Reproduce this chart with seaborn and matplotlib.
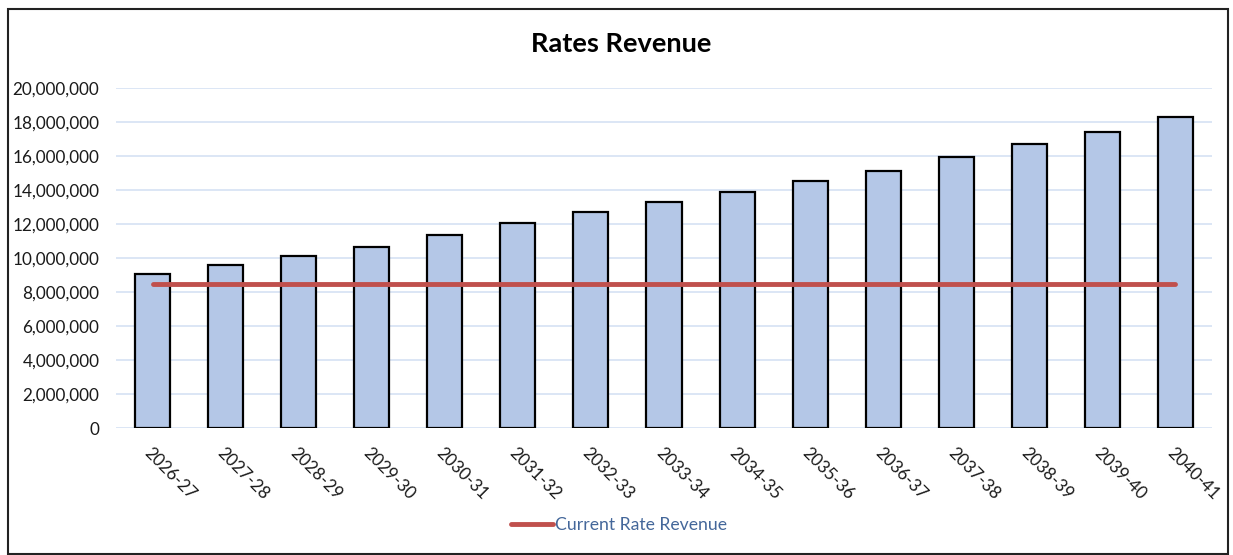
import numpy as np
import seaborn as sns
import matplotlib.pyplot as plt
from matplotlib.patches import Rectangle
from matplotlib.ticker import FuncFormatter

# values
years = ["2026-27", "2027-28", "2028-29", "2029-30", "2030-31", "2031-32", "2032-33",
         "2033-34", "2034-35", "2035-36", "2036-37", "2037-38", "2038-39", "2039-40", "2040-41"]
rates_revenue = [9060000, 9600000, 10140000, 10680000, 11370000, 12060000, 12700000,
                 13310000, 13900000, 14510000, 15140000, 15920000, 16700000, 17410000, 18270000]
current_rate_revenue = [8470000, 8470000, 8470000, 8470000, 8470000, 8470000, 8470000,
                        8470000, 8470000, 8470000, 8470000, 8470000, 8470000, 8470000, 8470000]

sns.set_style("white")
plt.rcParams["font.family"] = ["Lato", "DejaVu Sans"]

fig = plt.figure(figsize=(12.33, 5.55), dpi=100)
ax = fig.add_axes([116 / 1233, 1 - 428.3 / 555, (1212 - 116) / 1233, (428.3 - 88) / 555])

sns.barplot(x=years, y=rates_revenue, color="#B4C7E7", edgecolor="black",
            linewidth=1.6, width=0.48, saturation=1, ax=ax, zorder=3)
sns.lineplot(x=np.arange(len(years)), y=current_rate_revenue, color="#C0504D",
             linewidth=3.5, ax=ax, zorder=4, label="Current Rate Revenue", legend=False)

ax.set_xlim(-0.5, len(years) - 0.5)
ax.set_ylim(0, 20000000)
ax.set_yticks(np.arange(0, 20000001, 2000000))
ax.yaxis.set_major_formatter(FuncFormatter(lambda v, p: f"{int(v):,}"))
ax.grid(axis="y", color="#D6E2F3", linewidth=1.2, zorder=0)
ax.set_axisbelow(True)
for s in ax.spines.values():
    s.set_visible(False)
ax.tick_params(axis="both", length=0, labelsize=12.3, colors="#1a1a1a")
ax.tick_params(axis="y", pad=12)
ax.tick_params(axis="x", pad=12)
ax.set_xlabel("")
ax.set_ylabel("")
plt.setp(ax.get_xticklabels(), rotation=-45, ha="left", rotation_mode="anchor")

fig.text(0.504, 1 - 44 / 555, "Rates Revenue", ha="center", va="center",
         fontsize=19.5, fontweight="bold", color="black")

handles, labels = ax.get_legend_handles_labels()
leg = fig.legend(handles, labels, loc="center", bbox_to_anchor=(619 / 1233, 1 - 525 / 555),
                 frameon=False, fontsize=12.7, handlelength=2.4, handletextpad=0.15)
for t in leg.get_texts():
    t.set_color("#44679A")

fig.patches.append(Rectangle((8 / 1233, 1 - 554 / 555), 1220 / 1233, 545 / 555,
                             transform=fig.transFigure, fill=False,
                             edgecolor="#222222", linewidth=1.5))

fig.savefig("out.png", dpi=100)
